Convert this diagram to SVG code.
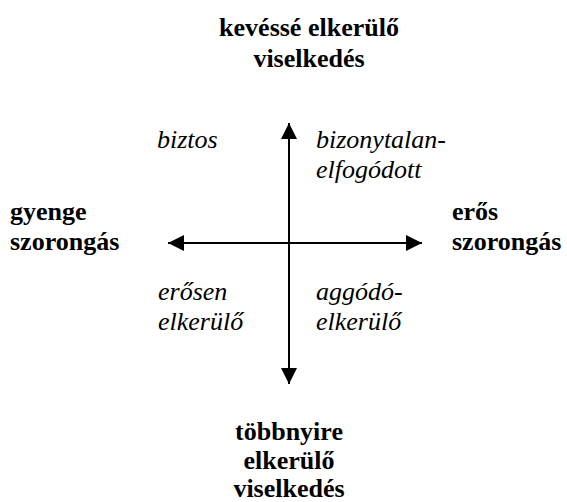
<svg xmlns="http://www.w3.org/2000/svg" width="567" height="502" viewBox="0 0 567 502">
<style>
.b{font-weight:bold;font-size:26px;fill:#000}
.i{font-style:italic;font-size:26px;fill:#000}
.c{text-anchor:middle}
.ax{stroke:#000;stroke-width:2;fill:none}
</style>
<defs>
<marker id="ah" viewBox="0 0 16 16" refX="16" refY="8" markerWidth="16" markerHeight="16" markerUnits="userSpaceOnUse" orient="auto">
<path d="M0,0 L16,8 L0,16 Z" fill="#000"/>
</marker>
</defs>
<rect width="567" height="502" fill="#fff"/>
<g id="connectors">
<line class="ax" x1="289" y1="243" x2="289" y2="123" marker-end="url(#ah)"/>
<line class="ax" x1="289" y1="243" x2="289" y2="384" marker-end="url(#ah)"/>
<line class="ax" x1="295" y1="243" x2="168" y2="243" marker-end="url(#ah)"/>
<line class="ax" x1="289" y1="243" x2="422" y2="243" marker-end="url(#ah)"/>
</g>
<g font-family="Liberation Serif, serif">
<g id="top">
<text class="b c" x="309" y="36">kevéssé elkerülő</text>
<text class="b c" x="309" y="67">viselkedés</text>
</g>
<g id="left">
<text class="b" x="10" y="220">gyenge</text>
<text class="b" x="10" y="250">szorongás</text>
</g>
<g id="right">
<text class="b" x="452" y="220">erős</text>
<text class="b" x="452" y="250">szorongás</text>
</g>
<g id="bottom">
<text class="b c" x="289" y="440">többnyire</text>
<text class="b c" x="289" y="469">elkerülő</text>
<text class="b c" x="289" y="497">viselkedés</text>
</g>
<g id="q-tl">
<text class="i" x="157" y="148">biztos</text>
</g>
<g id="q-tr">
<text class="i" x="316" y="148">bizonytalan-</text>
<text class="i" x="316" y="178">elfogódott</text>
</g>
<g id="q-bl">
<text class="i" x="158" y="300">erősen</text>
<text class="i" x="158" y="330">elkerülő</text>
</g>
<g id="q-br">
<text class="i" x="316" y="300">aggódó-</text>
<text class="i" x="316" y="330">elkerülő</text>
</g>
</g>
</svg>
